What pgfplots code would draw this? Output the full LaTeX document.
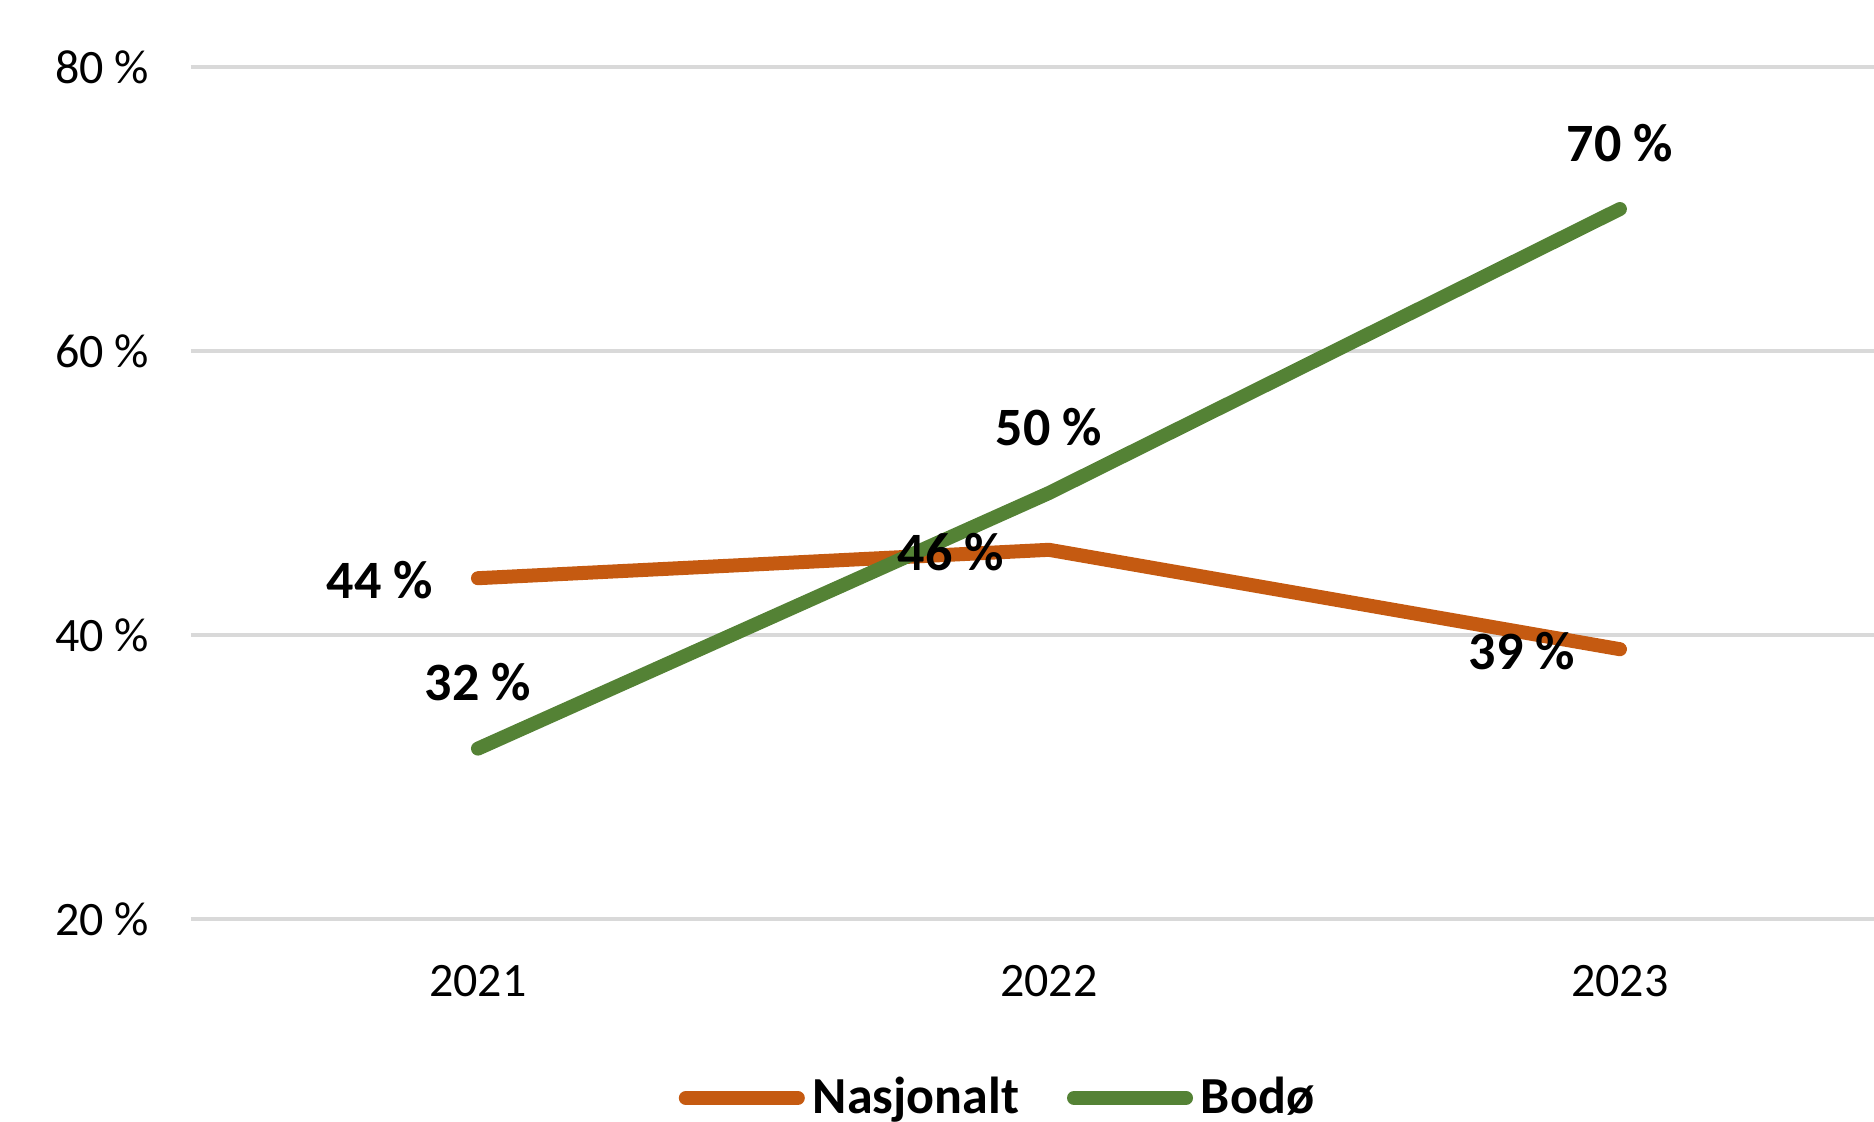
\documentclass[border=0pt]{standalone}
\usepackage{fontspec}
\setmainfont{Carlito}
\usepackage{pgfplots}
\pgfplotsset{compat=1.18}
\definecolor{nasj}{HTML}{C55A11}
\definecolor{bodo}{HTML}{548235}
\definecolor{gridc}{HTML}{D9D9D9}
\begin{document}
\begin{tikzpicture}
\useasboundingbox (-47.75bp,-50.75bp) rectangle (420.75bp,229.75bp);
\begin{axis}[
  scale only axis,
  width=420.75bp, height=213bp,
  xmin=-0.5026, xmax=2.445,
  ymin=20, ymax=80,
  ytick={20,40,60,80},
  xtick={0,1,2},
  xticklabels={2021,2022,2023},
  axis line style={draw=none},
  major tick length=0pt,
  ymajorgrids,
  grid style={gridc, line width=0.8bp},
  /pgf/number format/assume math mode=true,
  yticklabel={\pgfmathprintnumber{\tick} \%},
  ticklabel style={font=\fontsize{12bp}{14bp}\selectfont, text=black},
  yticklabel style={anchor=east, inner sep=0pt, xshift=-10.25bp},
  xticklabel style={anchor=north, inner sep=0pt, yshift=-11.5bp},
  clip=false,
  legend columns=2,
  legend style={draw=none, at={(0.481,-0.21)}, anchor=center,
    font=\fontsize{13bp}{15bp}\selectfont\bfseries,
    /tikz/every even column/.append style={column sep=10bp}},
  legend image code/.code={\draw[#1, line width=3.5bp, line cap=round] (0bp,0bp) -- (28bp,0bp);},
  nodes near coords={\pgfmathprintnumber{\pgfplotspointmeta} \%},
  every node near coord/.append style={font=\fontsize{13.5bp}{15bp}\selectfont\bfseries, text=black, anchor=center},
]
\addplot[nasj, line width=3.5bp, line cap=round, line join=round,
  every node near coord/.append style={xshift=-24.5bp, yshift=-0.5bp}]
  coordinates {(0,44) (1,46) (2,39)};
\addlegendentry{Nasjonalt}
\addplot[bodo, line width=3.5bp, line cap=round, line join=round,
  every node near coord/.append style={yshift=16.6bp}]
  coordinates {(0,32) (1,50) (2,70)};
\addlegendentry{Bodø}
\end{axis}
\end{tikzpicture}
\end{document}
